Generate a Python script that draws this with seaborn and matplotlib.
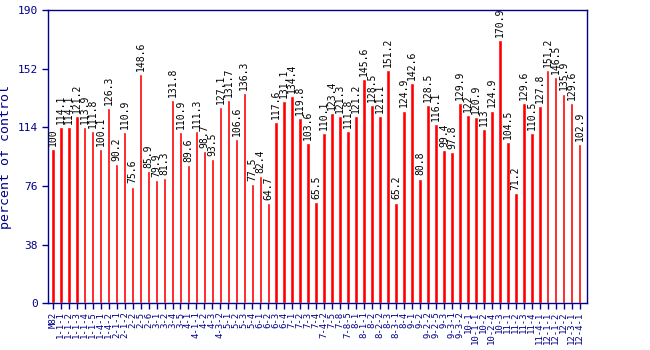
import matplotlib
matplotlib.use("Agg")
import matplotlib.pyplot as plt
import seaborn as sns
import pandas as pd

labels = ["M82", "1-1-1", "1-1-2", "1-1-3", "1-1-4", "1-1-5", "1-4-1", "1-4-2",
          "2-1-1", "2-1-2", "2-2", "2-5", "2-6", "3-1", "3-2", "3-4", "3-5",
          "4-1", "4-1-1", "4-2", "4-3", "4-3-2", "5-1", "5-2", "5-3", "5-4",
          "6-1", "6-2", "6-3", "6-4", "7-1", "7-2", "7-3", "7-4", "7-4-2",
          "7-5", "7-8", "7-8-5", "8-1", "8-1-1", "8-2", "8-2-2", "8-3",
          "8-3-1", "8-4", "9-1", "9-2", "9-2-2", "9-2-5", "9-3", "9-3-1",
          "9-3-2", "10-1", "10-1-1", "10-2", "10-2-4", "10-3", "11-1", "11-2",
          "11-3", "11-4", "11-4-1", "12-1-1", "12-1-2", "12-2", "12-3-1",
          "12-4-1"]
values = [100, 114.1, 114.1, 121.2, 113.9, 111.8, 100.1, 126.3, 90.2, 110.9,
          75.6, 148.6, 85.9, 79.9, 81.3, 131.8, 110.9, 89.6, 111.3, 98.7,
          93.5, 127.1, 131.7, 106.6, 136.3, 77.5, 82.4, 64.7, 117.6, 131.1,
          134.4, 119.8, 103.6, 65.5, 110.1, 123.4, 121.3, 111.8, 121.2, 145.6,
          128.5, 121.1, 151.2, 65.2, 124.9, 142.6, 80.8, 128.5, 116.1, 99.4,
          97.8, 129.9, 122, 120.9, 113, 124.9, 170.9, 104.5, 71.2, 129.6,
          110.5, 127.8, 151.2, 146.5, 135.9, 129.6, 102.9]
yticks = [0, 38, 76, 114, 152, 190]

navy = "#00008b"
mono = "DejaVu Sans Mono"

sns.set_style("white")
plt.rcParams["font.family"] = [mono]

df = pd.DataFrame({"line": labels, "pct": values})

fig = plt.figure(figsize=(6.5, 3.5), dpi=100)
ax = fig.add_axes([0.0738, 0.134, 0.829, 0.837])
sns.barplot(data=df, x="line", y="pct", color="#ff0000", width=0.45,
            saturation=1, ax=ax)

for i, v in enumerate(values):
    ax.text(i, v + 2, f"{v:g}", rotation=90, ha="center", va="bottom",
            fontsize=7, color="black", family=mono)

ax.set_xlim(-0.6, len(values) - 0.1)
ax.set_ylim(0, 190)
ax.set_yticks(yticks)
ax.set_yticklabels([str(t) for t in yticks], color=navy, fontsize=8)
ax.set_xticks(range(len(labels)))
ax.set_xticklabels(labels, rotation=90, color=navy, fontsize=6.5)
ax.tick_params(axis="both", colors=navy, length=4, width=1, direction="out",
               bottom=True, left=True)
ax.tick_params(axis="x", pad=2)
ax.set_xlabel("")
ax.set_ylabel("percent of control", color=navy, fontsize=9.5, labelpad=4)
for s in ax.spines.values():
    s.set_color(navy)
    s.set_linewidth(1)

fig.savefig("out.png", dpi=100)
